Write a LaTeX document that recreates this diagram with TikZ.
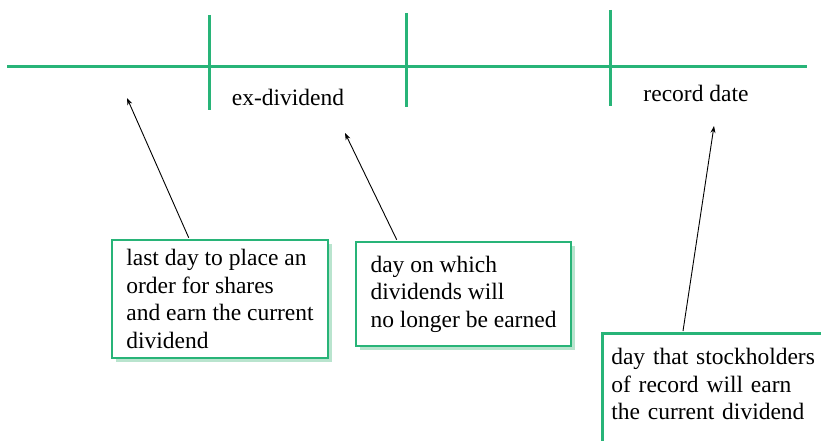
\documentclass[tikz,border=0pt]{standalone}
\usepackage{fontspec}
\setmainfont{Liberation Serif}
\usetikzlibrary{arrows.meta,calc,shadows}
\definecolor{tlgreen}{RGB}{40,180,120}
\definecolor{shgreen}{RGB}{185,228,206}
\begin{document}
\begin{tikzpicture}[x=1pt,y=1pt,
  tl/.style={draw=tlgreen, line width=3pt},
  txt/.style={font=\fontsize{23.5}{27.5}\selectfont},
  box/.style={txt, draw=tlgreen, line width=2.6pt, fill=white, align=left,
    drop shadow={shadow xshift=4pt, shadow yshift=-4pt, fill=shgreen, opacity=1}},
  lbl/.style={txt, inner sep=0pt},
  arr/.style={-{Stealth[length=7pt,width=5pt]}, line width=0.9pt}]
\useasboundingbox (0,0) rectangle (821,-441);
\clip (0,0) rectangle (821,-441);
% timeline
\coordinate (tlA) at (7,-67);
\coordinate (tlB) at (807,-67);
\draw[tl] (tlA) -- (tlB);
\coordinate (t1a) at (209,-15);  \coordinate (t1b) at (209,-110);
\coordinate (t2a) at (406,-13);  \coordinate (t2b) at (406,-107);
\coordinate (t3a) at (610,-10);  \coordinate (t3b) at (610,-106);
\draw[tl] (t1a) -- (t1b);
\draw[tl] (t2a) -- (t2b);
\draw[tl] (t3a) -- (t3b);
% labels
\node[lbl, anchor=base] (exd) at (288,-106) {ex-dividend};
\node[lbl, anchor=base] (rec) at (696,-102) {record date};
% arrow tips
\coordinate (a1) at (127,-98);
\coordinate (a2) at (345,-133);
\coordinate (a3) at (714,-126);
% boxes
\node[box, minimum width=216pt, minimum height=118pt] (b1) at (220,-299)
  {last day to place an\\order for shares\\and earn the current\\dividend};
\node[box, minimum width=215pt, minimum height=104pt] (b2) at (463.5,-294)
  {day on which\\dividends will\\no longer be earned};
\node[box, anchor=north west, text width=240pt, inner xsep=9pt, inner ysep=15pt, text depth=100pt] (b3) at (601,-332)
  {day that stockholders\\of record will earn\\the current dividend};
% arrows
\draw[arr] ($(b1.north west)+(78,1)$) -- (a1);
\draw[arr] ($(b2.north west)+(42,1)$) -- (a2);
\draw[arr] ($(b3.north west)+(82,1)$) -- (a3);
\end{tikzpicture}
\end{document}
